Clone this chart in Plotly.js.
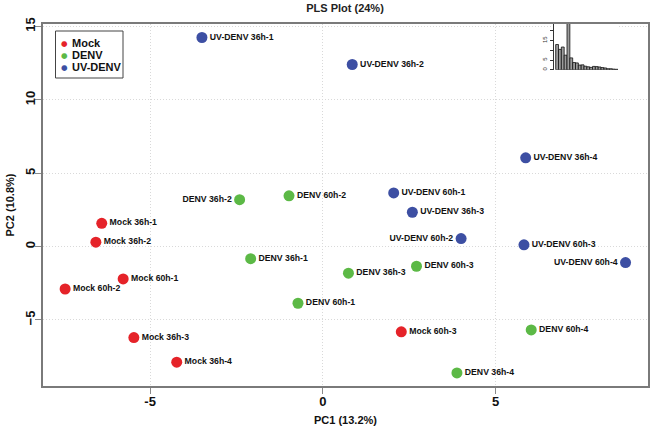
<!DOCTYPE html>
<html>
<head>
<meta charset="utf-8">
<script src="https://cdn.plot.ly/plotly-3.0.1.min.js"></script>
<style>html,body{margin:0;padding:0;background:#fff;}#chart{width:652px;height:436px;}</style>
</head>
<body>
<div id="chart"></div>
<script>
// ---- data ----
const mockLabels = ['Mock 36h-1','Mock 36h-2','Mock 60h-1','Mock 60h-2','Mock 36h-3','Mock 36h-4','Mock 60h-3'];
const mockX = [-6.40,-6.57,-5.78,-7.46,-5.47,-4.23,2.27];
const mockY = [1.59,0.30,-2.20,-2.89,-6.20,-7.88,-5.81];

const denvLabels = ['DENV 36h-2','DENV 60h-2','DENV 36h-1','DENV 60h-1','DENV 36h-3','DENV 60h-3','DENV 60h-4','DENV 36h-4'];
const denvX = [-2.41,-0.98,-2.09,-0.72,0.74,2.71,6.03,3.88];
const denvY = [3.20,3.46,-0.82,-3.86,-1.81,-1.34,-5.68,-8.61];

const uvLabels = ['UV-DENV 36h-1','UV-DENV 36h-2','UV-DENV 36h-4','UV-DENV 60h-1','UV-DENV 36h-3','UV-DENV 60h-2','UV-DENV 60h-3','UV-DENV 60h-4'];
const uvX = [-3.50,0.85,5.87,2.05,2.59,4.00,5.82,8.76];
const uvY = [14.25,12.41,6.05,3.66,2.34,0.55,0.12,-1.09];

const leftLabelled = ['DENV 36h-2','UV-DENV 60h-2','UV-DENV 60h-4'];

const insetIndex = [1,2,3,4,5,6,7,8,9,10,11,12,13,14,15,16,17,18,19,20,21,22];
const insetValues = [13,10.5,11.7,7.5,30,6.1,3.7,3.5,2.4,2.5,1.8,1.5,1.2,1.7,1.6,1.4,1.1,0.9,0.5,0.5,0.3,0.2];

const legendNames = ['Mock','DENV','UV-DENV'];
const colors = ['#e52329','#5cb946','#3d4fa3'];

// ---- layout helpers ----
const W = 652, H = 436, ML = 43, MR = 4, MT = 24, MB = 50;
const PW = W - ML - MR, PH = H - MT - MB;
const px = p => (p - ML) / PW;
const py = p => (MT + PH - p) / PH;
const FONT = 'Liberation Sans, Arial, Helvetica, sans-serif';

function group(xs, ys, labels, color) {
  return {
    type: 'scatter', mode: 'markers+text', x: xs, y: ys, text: labels,
    textposition: labels.map(l => leftLabelled.includes(l) ? 'middle left' : 'middle right'),
    textfont: {family: FONT, size: 8.7, color: '#111', weight: 'bold'},
    marker: {color: color, size: 11, line: {width: 0}},
    showlegend: false, hoverinfo: 'none', cliponaxis: false
  };
}

const traces = [
  group(mockX, mockY, mockLabels, colors[0]),
  group(denvX, denvY, denvLabels, colors[1]),
  group(uvX, uvY, uvLabels, colors[2]),
  {
    type: 'bar', x: insetIndex, y: insetValues, xaxis: 'x2', yaxis: 'y2',
    marker: {color: '#9c9c9c', line: {color: '#111', width: 0.8}},
    width: 1, showlegend: false, hoverinfo: 'none'
  }
];

const legendAnn = [];
legendNames.forEach((n, i) => {
  const yy = py(43 + i * 12.2);
  legendAnn.push({
    xref: 'paper', yref: 'paper', x: px(64.7), y: yy, xanchor: 'center', yanchor: 'middle',
    text: '●', showarrow: false, font: {family: 'DejaVu Sans', size: 7.5, color: colors[i]}
  });
  legendAnn.push({
    xref: 'paper', yref: 'paper', x: px(70), y: yy, xanchor: 'left', yanchor: 'middle',
    text: n, showarrow: false, font: {family: FONT, size: 11, color: '#111', weight: 'bold'}
  });
});

const gridDash = '1px,2px';

const layout = {
  width: W, height: H,
  margin: {l: ML, r: MR, t: MT, b: MB, pad: 0},
  paper_bgcolor: '#fff', plot_bgcolor: '#fff',
  font: {family: FONT, color: '#111'},
  title: {text: 'PLS Plot (24%)', font: {family: FONT, size: 11, weight: 'bold', color: '#222'},
          x: 345 / W, xanchor: 'center', y: 1 - 8 / H, yanchor: 'middle', yref: 'container'},
  xaxis: {
    range: [-8.10, 9.41], tickvals: [-5, 0, 5], ticktext: ['-5', '0', '5'],
    showgrid: true, gridcolor: '#d9d9d9', griddash: gridDash, gridwidth: 1,
    zeroline: false, showline: true, mirror: true, linecolor: '#7a7a7a', linewidth: 1.6,
    ticks: 'outside', ticklen: 6, tickcolor: '#8a8a8a', tickwidth: 1, ticklabelstandoff: -3,
    tickfont: {family: FONT, size: 13, weight: 'bold', color: '#111'},
    title: {text: 'PC1 (13.2%)', font: {family: FONT, size: 11, weight: 'bold', color: '#111'}, standoff: 8}
  },
  yaxis: {
    range: [-9.50, 15.17], tickvals: [-5, 0, 5, 10, 15],
    showgrid: true, gridcolor: '#d9d9d9', griddash: gridDash, gridwidth: 1,
    zeroline: false, showline: true, mirror: true, linecolor: '#7a7a7a', linewidth: 1.6,
    ticks: 'outside', ticklen: 6, tickcolor: '#8a8a8a', tickwidth: 1, tickangle: -90, ticklabelstandoff: -5,
    tickfont: {family: FONT, size: 13, weight: 'bold', color: '#111'},
    title: {text: 'PC2 (10.8%)', font: {family: FONT, size: 11, weight: 'bold', color: '#111'}, standoff: 6}
  },
  xaxis2: {domain: [px(553.7), px(618)], range: [-0.2, 22.5], anchor: 'y2', visible: false, fixedrange: true},
  yaxis2: {
    domain: [py(69.7), 1], range: [0, 23.6], anchor: 'x2',
    showline: true, linecolor: '#333', linewidth: 1, showgrid: false, zeroline: false,
    ticks: 'outside', ticklen: 3, tickcolor: '#333', tickwidth: 1,
    tickvals: [0, 5, 10, 15, 20], ticktext: ['0', '5', '', '15', ''], tickangle: -90,
    tickfont: {family: FONT, size: 6, color: '#333'}
  },
  bargap: 0,
  annotations: legendAnn,
  shapes: [{type: 'rect', xref: 'paper', yref: 'paper', x0: px(55.5), x1: px(123), y0: py(31), y1: py(78),
            line: {color: '#444', width: 1}, fillcolor: 'rgba(0,0,0,0)'}]
};

Plotly.newPlot('chart', traces, layout, {staticPlot: true, displayModeBar: false});
</script>
</body>
</html>
